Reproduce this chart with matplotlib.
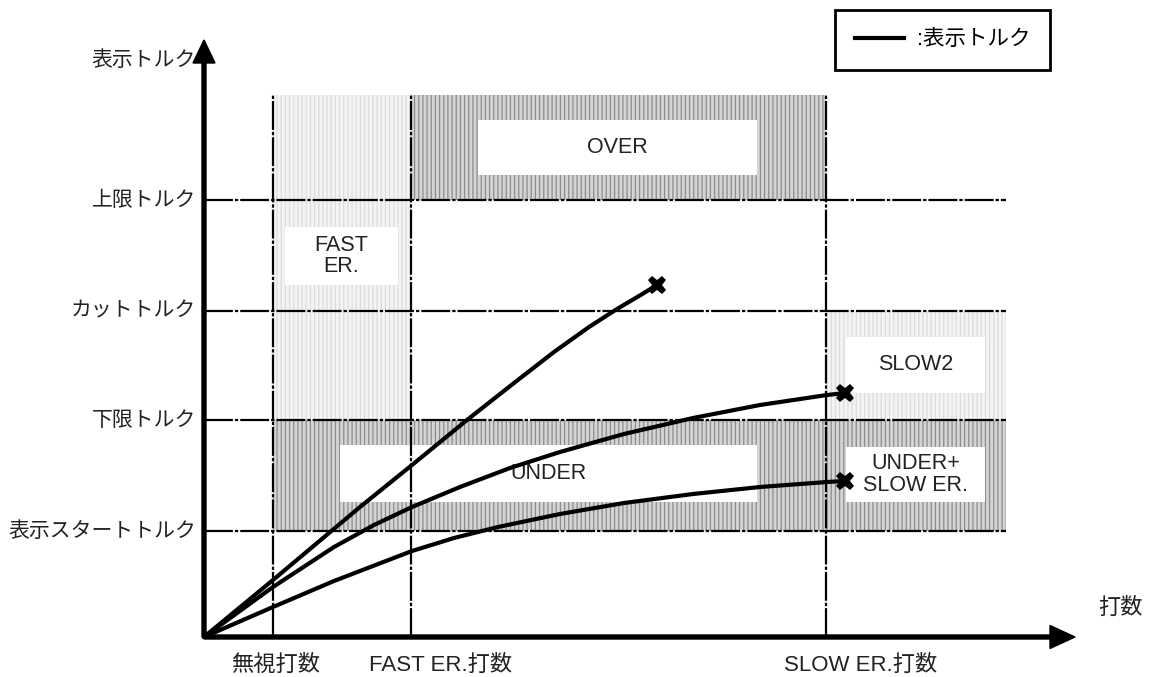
import matplotlib.pyplot as plt
from matplotlib.patches import Rectangle
from matplotlib.lines import Line2D

plt.rcParams['font.family'] = ['Liberation Sans', 'Noto Sans CJK JP', 'DejaVu Sans']
plt.rcParams['hatch.linewidth'] = 0.9

# torque levels (y) and stroke-count levels (x), arbitrary units
torque_names = ['上限トルク', 'カットトルク', '下限トルク', '表示スタートトルク']
torque_levels = [43.7, 32.6, 21.7, 10.6]
count_names = ['無視打数', 'FAST ER.打数', 'SLOW ER.打数']
count_levels = [6.9, 20.7, 62.2]
zone_top = 54.2
zone_right = 80.2

# display torque curves (x, y)
curve1_x = [0, 6.9, 15.6, 20.8, 26.3, 31.0, 35.0, 38.5, 41.3, 43.5, 45.3]
curve1_y = [0, 5.7, 13.0, 17.2, 21.7, 25.4, 28.5, 31.0, 32.8, 34.1, 35.2]
curve2_x = [0, 6.9, 13.0, 17.0, 20.8, 25.6, 30.6, 35.6, 42.0, 48.9, 55.6, 62.3, 64.1]
curve2_y = [0, 5.0, 9.0, 11.2, 13.0, 15.0, 16.9, 18.5, 20.3, 21.9, 23.2, 24.2, 24.4]
curve3_x = [0, 6.9, 13.0, 20.8, 25.0, 29.4, 35.6, 42.0, 48.9, 55.6, 62.3, 64.1]
curve3_y = [0, 3.0, 5.6, 8.6, 9.9, 11.0, 12.3, 13.4, 14.3, 15.0, 15.5, 15.6]

fig = plt.figure(figsize=(11.51, 6.77), dpi=100)
ax = fig.add_axes([0, 0, 1, 1])
ax.set_xlim(-20.4, 94.7)
ax.set_ylim(-4.0, 63.7)
ax.axis('off')

dark = dict(facecolor='#d4d4d4', edgecolor='#8c8c8c', hatch='||||', lw=0)
light = dict(facecolor='#f4f4f4', edgecolor='#dcdcdc', hatch='||||', lw=0)

x_ign, x_fast, x_slow = count_levels
y_up, y_cut, y_low, y_start = torque_levels

# zones
ax.add_patch(Rectangle((x_ign, y_low), x_fast - x_ign, zone_top - y_low, **light))
ax.add_patch(Rectangle((x_slow, y_low), zone_right - x_slow, y_cut - y_low, **light))
ax.add_patch(Rectangle((x_fast, y_up), x_slow - x_fast, zone_top - y_up, **dark))
ax.add_patch(Rectangle((x_ign, y_start), zone_right - x_ign, y_low - y_start, **dark))

# white label boxes
boxes = [
    ('OVER', 27.4, 46.2, 55.3, 51.7),
    ('FAST\nER.', 8.1, 35.2, 19.4, 41.0),
    ('SLOW2', 64.2, 24.4, 78.1, 30.0),
    ('UNDER', 13.6, 13.5, 55.3, 19.2),
    ('UNDER+\nSLOW ER.', 64.2, 13.5, 78.1, 19.0),
]
for txt, x0, y0, x1, y1 in boxes:
    ax.add_patch(Rectangle((x0, y0), x1 - x0, y1 - y0, facecolor='white', lw=0))
    ax.text((x0 + x1) / 2, (y0 + y1) / 2, txt, ha='center', va='center',
            fontsize=15.5, color='#222222', linespacing=1.05)

dash = (0, (13, 0.9, 1.5, 0.9))
for y in torque_levels:
    ax.plot([0, zone_right], [y, y], color='black', lw=1.6, linestyle=dash)
for x in count_levels:
    ax.plot([x, x], [0, zone_top], color='black', lw=1.6, linestyle=dash)

# axes arrows
ax.arrow(0, 0, 0, 59.7, width=0.4, head_width=2.2, head_length=2.3,
         length_includes_head=True, color='black', zorder=5)
ax.arrow(0, 0, 87.1, 0, width=0.4, head_width=2.3, head_length=2.5,
         length_includes_head=True, color='black', zorder=5)

for cx, cy in [(curve1_x, curve1_y), (curve2_x, curve2_y), (curve3_x, curve3_y)]:
    ax.plot(cx, cy, color='black', lw=3, solid_capstyle='round',
            solid_joinstyle='round', zorder=6)
    ax.plot(cx[-1], cy[-1], marker='X', color='black', markersize=13,
            markeredgewidth=0, zorder=7)

# axis labels
ax.text(-0.8, 57.7, '表示トルク', ha='right', va='center', fontsize=15, color='#222222')
for name, y in zip(torque_names, torque_levels):
    ax.text(-0.8, y, name, ha='right', va='center', fontsize=15, color='#222222')
for name, x in zip(count_names, count_levels):
    ax.text(x - 4.2, -2.8, name, ha='left', va='center', fontsize=16, color='#222222')
ax.text(91.6, 2.9, '打数', ha='center', va='center', fontsize=16, color='#222222')

handle = Line2D([], [], color='black', lw=3)
leg = ax.legend([handle], [':表示トルク'], loc='upper right',
                bbox_to_anchor=(1050 / 1151, 1 - 10 / 677), fontsize=15.5,
                fancybox=False, framealpha=1, edgecolor='black',
                handlelength=2.3, handletextpad=0.6, borderpad=0.9,
                borderaxespad=0)
leg.get_frame().set_linewidth(2)

plt.savefig('out.png', dpi=100)
